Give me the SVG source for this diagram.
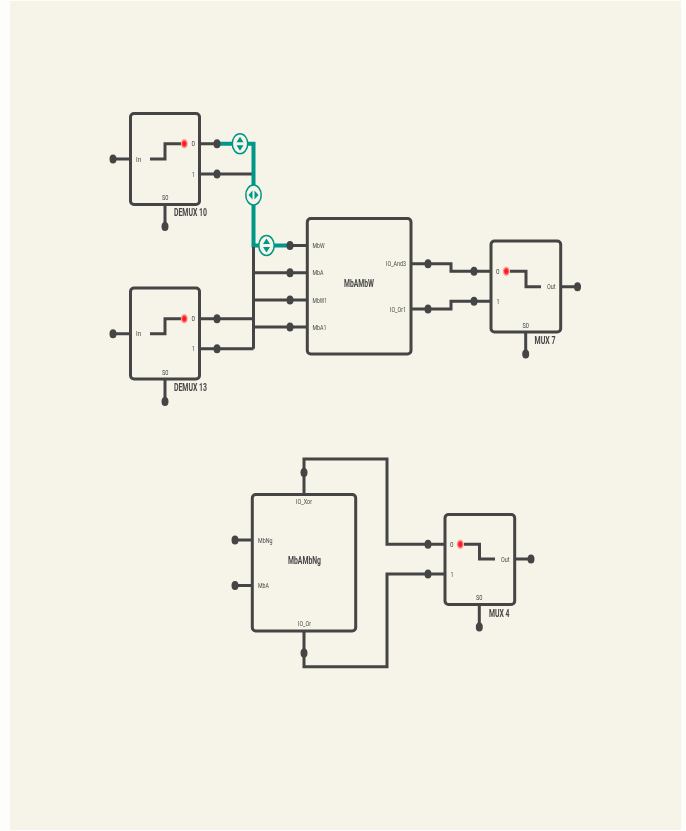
<svg xmlns="http://www.w3.org/2000/svg" width="686" height="831" viewBox="0 0 686 831">
<defs>
<filter id="soft" x="0" y="0" width="100%" height="100%" filterUnits="userSpaceOnUse"><feGaussianBlur stdDeviation="0.3"/></filter>
<radialGradient id="led"><stop offset="0" stop-color="#ff0a14"/><stop offset="0.5" stop-color="#ff2f35"/><stop offset="1" stop-color="#ff8a80" stop-opacity="0.35"/></radialGradient>
<g id="badgeV"><ellipse class="badge" rx="7.7" ry="10"/><path class="tri" d="M0-7 3.5-1.5H-3.5ZM0 7 3.5 1.5H-3.5Z"/></g>
<g id="badgeH"><ellipse class="badge" rx="7.7" ry="10"/><path class="tri" d="M-5 0-1-4.5V4.5ZM5 0 1-4.5V4.5Z"/></g>
</defs>
<style>
.w{fill:none;stroke:#444;stroke-width:3}
.t{fill:none;stroke:#009688;stroke-width:4}
.box{fill:#f6f4e9;stroke:#444;stroke-width:3}
.d{fill:#444}
.badge{fill:#f6f4e9;stroke:#009688;stroke-width:1.5}
.tri{fill:#009688}
.led{fill:url(#led)}
text{font-family:Roboto,"Liberation Sans",sans-serif;fill:#444;opacity:.99}
.p{font-size:7.5px}
.n{font-size:10px;font-weight:700}
.all{filter:url(#soft)}
</style>
<rect width="686" height="831" fill="#fdfdfc"/>
<rect x="10" y="1" width="671" height="829" fill="#f6f4e9"/>
<g class="all">
<g id="connectors">
<path class="w" d="M113 159H130M199 143.7H217M199 174H253.5M165 204V226.5"/>
<path class="t" d="M217 143.7H253.5V245.5H290"/>
<path class="w" d="M113 333.7H130M199 318.7H253.5M199 348.7H253.5M165 379V401.5M253.5 247V348.7M253.5 272.7H307M253.5 300H307M253.5 327H307M290 245.5H307"/>
<path class="w" d="M411 263.7H451V271.3H491M411 309H451V301.3H491M561 286.7H577.5M525.7 332V354"/>
<path class="w" d="M304 494V459H387V544.3H445M304 631V666.7H387V574H445M235 540H252M235 585.5H252M514 559H531M479.3 604V627"/>
<g class="d">
<ellipse cx="217" cy="143.7" rx="3.5" ry="4.5"/><ellipse cx="217" cy="174" rx="3.5" ry="4.5"/><ellipse cx="113" cy="159" rx="3.5" ry="4.5"/><ellipse cx="165" cy="226.5" rx="3.5" ry="4.5"/>
<ellipse cx="113" cy="333.7" rx="3.5" ry="4.5"/><ellipse cx="217" cy="318.7" rx="3.5" ry="4.5"/><ellipse cx="217" cy="348.7" rx="3.5" ry="4.5"/><ellipse cx="165" cy="401.5" rx="3.5" ry="4.5"/>
<ellipse cx="290" cy="245.5" rx="3.5" ry="4.5"/><ellipse cx="290" cy="272.7" rx="3.5" ry="4.5"/><ellipse cx="290" cy="300" rx="3.5" ry="4.5"/><ellipse cx="290" cy="327" rx="3.5" ry="4.5"/>
<ellipse cx="428" cy="263.7" rx="3.5" ry="4.5"/><ellipse cx="428" cy="309" rx="3.5" ry="4.5"/><ellipse cx="474" cy="271.3" rx="3.5" ry="4.5"/><ellipse cx="474" cy="301.3" rx="3.5" ry="4.5"/>
<ellipse cx="577.5" cy="286.7" rx="3.5" ry="4.5"/><ellipse cx="525.7" cy="354" rx="3.5" ry="4.5"/>
<ellipse cx="304" cy="472.5" rx="3.5" ry="4.5"/><ellipse cx="304" cy="653" rx="3.5" ry="4.5"/><ellipse cx="235" cy="540" rx="3.5" ry="4.5"/><ellipse cx="235" cy="585.5" rx="3.5" ry="4.5"/>
<ellipse cx="428" cy="544.3" rx="3.5" ry="4.5"/><ellipse cx="428" cy="574" rx="3.5" ry="4.5"/><ellipse cx="531" cy="559" rx="3.5" ry="4.5"/><ellipse cx="479.3" cy="627" rx="3.5" ry="4.5"/>
</g>
<use href="#badgeV" x="240" y="143.7"/>
<use href="#badgeH" x="253.5" y="195"/>
<use href="#badgeV" x="266.5" y="245.5"/>
</g>
<g id="demux10">
<rect class="box" x="130.5" y="113.5" width="69" height="91" rx="3.5"/>
<path class="w" d="M150 159H165V143.7H181"/><ellipse class="led" cx="184.3" cy="143.7" rx="3.7" ry="4.9"/>
<text class="p" x="136" y="161.6" textLength="5" lengthAdjust="spacingAndGlyphs">In</text>
<text class="p" x="191.5" y="146.3" textLength="3.5" lengthAdjust="spacingAndGlyphs">0</text>
<text class="p" x="192" y="176.6" textLength="3" lengthAdjust="spacingAndGlyphs">1</text>
<text class="p" x="162" y="200.3" textLength="6.5" lengthAdjust="spacingAndGlyphs">S0</text>
<text class="n" x="174" y="216" textLength="33" lengthAdjust="spacingAndGlyphs">DEMUX 10</text>
</g>
<g id="demux13">
<rect class="box" x="130.5" y="288" width="69" height="91" rx="3.5"/>
<path class="w" d="M150 333.7H165V318.7H181"/><ellipse class="led" cx="184.3" cy="318.7" rx="3.7" ry="4.9"/>
<text class="p" x="136" y="336.3" textLength="5" lengthAdjust="spacingAndGlyphs">In</text>
<text class="p" x="191.5" y="321.3" textLength="3.5" lengthAdjust="spacingAndGlyphs">0</text>
<text class="p" x="192" y="351.3" textLength="3" lengthAdjust="spacingAndGlyphs">1</text>
<text class="p" x="162" y="375" textLength="6.5" lengthAdjust="spacingAndGlyphs">S0</text>
<text class="n" x="174" y="390.5" textLength="33" lengthAdjust="spacingAndGlyphs">DEMUX 13</text>
</g>
<g id="MbAMbW">
<rect class="box" x="307.3" y="218.5" width="103.7" height="135.5" rx="3.5"/>
<text class="p" x="312.5" y="248" textLength="12" lengthAdjust="spacingAndGlyphs">MbW</text>
<text class="p" x="312.5" y="275.3" textLength="11" lengthAdjust="spacingAndGlyphs">MbA</text>
<text class="p" x="312.5" y="302.6" textLength="14.5" lengthAdjust="spacingAndGlyphs">MbW1</text>
<text class="p" x="312.5" y="329.6" textLength="14" lengthAdjust="spacingAndGlyphs">MbA1</text>
<text class="p" x="386" y="266.3" textLength="20" lengthAdjust="spacingAndGlyphs">IO_And3</text>
<text class="p" x="390" y="311.6" textLength="16" lengthAdjust="spacingAndGlyphs">IO_Or1</text>
<text class="n" x="344" y="287" textLength="30" lengthAdjust="spacingAndGlyphs">MbAMbW</text>
</g>
<g id="mux7">
<rect class="box" x="491" y="241" width="69.7" height="91" rx="3.5"/>
<path class="w" d="M510 271.3H526V286.7H541"/><ellipse class="led" cx="506.3" cy="271.3" rx="3.7" ry="4.9"/>
<text class="p" x="496" y="273.9" textLength="3.5" lengthAdjust="spacingAndGlyphs">0</text>
<text class="p" x="496.5" y="303.9" textLength="3" lengthAdjust="spacingAndGlyphs">1</text>
<text class="p" x="547" y="289.3" textLength="8.5" lengthAdjust="spacingAndGlyphs">Out</text>
<text class="p" x="522.5" y="327.8" textLength="6.5" lengthAdjust="spacingAndGlyphs">S0</text>
<text class="n" x="534.5" y="344" textLength="21" lengthAdjust="spacingAndGlyphs">MUX 7</text>
</g>
<g id="MbAMbNg">
<rect class="box" x="252.3" y="494.5" width="103.4" height="136.5" rx="3.5"/>
<text class="p" x="296" y="504.3" textLength="16" lengthAdjust="spacingAndGlyphs">IO_Xor</text>
<text class="p" x="258" y="542.6" textLength="14.5" lengthAdjust="spacingAndGlyphs">MbNg</text>
<text class="p" x="258" y="588.1" textLength="11" lengthAdjust="spacingAndGlyphs">MbA</text>
<text class="p" x="298" y="626.3" textLength="13" lengthAdjust="spacingAndGlyphs">IO_Or</text>
<text class="n" x="288" y="564" textLength="33" lengthAdjust="spacingAndGlyphs">MbAMbNg</text>
</g>
<g id="mux4">
<rect class="box" x="445" y="514.5" width="69.7" height="90" rx="3.5"/>
<path class="w" d="M464 544.3H479.5V559H495"/><ellipse class="led" cx="460.3" cy="544.3" rx="3.7" ry="4.9"/>
<text class="p" x="450" y="546.9" textLength="3.5" lengthAdjust="spacingAndGlyphs">0</text>
<text class="p" x="450.5" y="576.6" textLength="3" lengthAdjust="spacingAndGlyphs">1</text>
<text class="p" x="501" y="561.8" textLength="8.5" lengthAdjust="spacingAndGlyphs">Out</text>
<text class="p" x="476" y="600.3" textLength="6.5" lengthAdjust="spacingAndGlyphs">S0</text>
<text class="n" x="489" y="616.5" textLength="20.5" lengthAdjust="spacingAndGlyphs">MUX 4</text>
</g>
</g>
</svg>
